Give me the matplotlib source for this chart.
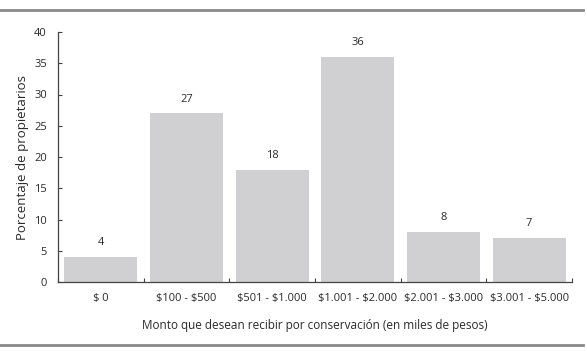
import matplotlib.pyplot as plt
from matplotlib.lines import Line2D

categorias = ['$ 0', '$100 - $500', '$501 - $1.000', '$1.001 - $2.000',
              '$2.001 - $3.000', '$3.001 - $5.000']
porcentajes = [4, 27, 18, 36, 8, 7]

plt.rcParams['font.family'] = ['Open Sans', 'DejaVu Sans']
gris_txt = '#2a2a2a'

fig = plt.figure(figsize=(5.87, 3.51), dpi=100)
ax = fig.add_axes([58/587, 1-282/351, (572-58)/587, 250/351])

x = range(len(categorias))
barras = ax.bar(x, porcentajes, width=0.85, color='#d0d0d2')
for xi, v in zip(x, porcentajes):
    ax.text(xi, v + 1.4, str(v), ha='center', va='bottom', fontsize=8, color=gris_txt)

ax.set_xlim(-0.5, len(categorias) - 0.5)
ax.set_ylim(0, 40)
ax.set_yticks(range(0, 41, 5))
ax.set_xticks([i - 0.5 for i in range(len(categorias) + 1)])
ax.set_xticklabels([])
ax.set_xticks(list(x), minor=True)
ax.set_xticklabels([c.replace('$', r'\$') for c in categorias], minor=True,
                   fontsize=8, color=gris_txt)
ax.tick_params(axis='x', which='minor', length=0, pad=8)
ax.tick_params(axis='x', which='major', direction='in', length=3, color='#444444')
ax.tick_params(axis='y', direction='in', length=3, labelsize=8, labelcolor=gris_txt,
               color='#444444', pad=8)
for s in ['top', 'right']:
    ax.spines[s].set_visible(False)
for s in ['left', 'bottom']:
    ax.spines[s].set_color('#444444')
    ax.spines[s].set_linewidth(0.9)

ax.set_ylabel('Porcentaje de propietarios', fontsize=9.5, color=gris_txt, labelpad=4)
ax.set_xlabel('Monto que desean recibir por conservación (en miles de pesos)',
              fontsize=8.5, color=gris_txt, labelpad=11)

# lineas de marco arriba y abajo
fig.add_artist(Line2D([0, 583/587], [1-10/351, 1-10/351], color='#8a8a8a', lw=2))
fig.add_artist(Line2D([0, 583/587], [1-345/351, 1-345/351], color='#8a8a8a', lw=2))

fig.savefig('out.png', dpi=100)
